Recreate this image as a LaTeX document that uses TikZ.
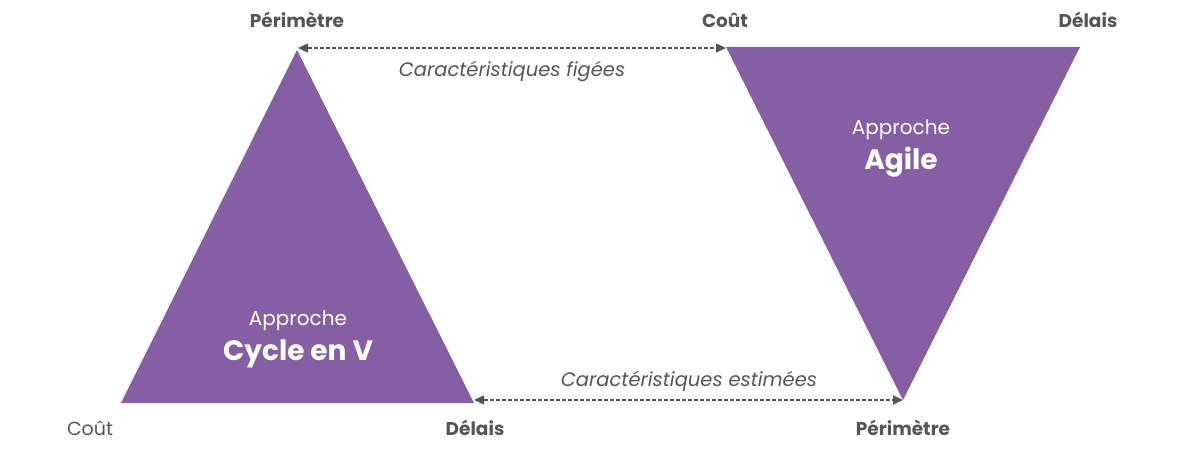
\documentclass[tikz,border=0pt]{standalone}
\usepackage{fontspec}
\setmainfont{Poppins}
\usetikzlibrary{arrows.meta}
\definecolor{purp}{RGB}{133,94,164}
\definecolor{txtgray}{RGB}{85,85,85}
\begin{document}
\begin{tikzpicture}[x=1pt,y=-1pt,
  trifill/.style={fill=purp,draw=none},
  lblb/.style={text=txtgray,font=\fontsize{18.5}{22}\selectfont\bfseries,inner sep=0pt},
  lblr/.style={text=txtgray,font=\fontsize{19}{22}\selectfont,inner sep=0pt},
  captxt/.style={text=txtgray,font=\fontsize{19.5}{23}\selectfont\itshape,inner sep=0pt},
  apprtxt/.style={text=white,font=\fontsize{20}{24}\selectfont,inner sep=0pt},
  apname/.style={text=white,font=\fontsize{28}{32}\selectfont\bfseries,inner sep=0pt},
  dlink/.style={draw=txtgray,line width=1.3pt,dash pattern=on 4pt off 2pt,{Triangle[length=10pt,width=9pt]}-{Triangle[length=10pt,width=9pt]}}]
\useasboundingbox (0,0) rectangle (1179,452);
% left triangle
\coordinate (LA) at (297,50);
\coordinate (LL) at (121,403);
\coordinate (LR) at (474,403);
\fill[trifill] (LA) -- (LL) -- (LR) -- cycle;
% right triangle
\coordinate (RL) at (726,47);
\coordinate (RR) at (1080,47);
\coordinate (RB) at (903,400);
\fill[trifill] (RL) -- (RR) -- (RB) -- cycle;
% arrows
\coordinate (t1) at (298,48);
\coordinate (t2) at (726,48);
\coordinate (b1) at (474,400);
\coordinate (b2) at (903,400);
\draw[dlink] (t1) -- (t2);
\draw[dlink] (b1) -- (b2);
% labels
\node[lblb] (p1) at (297,20) {Périmètre};
\node[lblb] (c1) at (725,20) {Coût};
\node[lblb] (d1) at (1088,20) {Délais};
\node[lblr] (c2) at (90,428) {Coût};
\node[lblb] (d2) at (475,428) {Délais};
\node[lblb] (p2) at (903,428) {Périmètre};
\node[captxt] (cf) at (512,72) {Caractéristiques figées};
\node[captxt] (ce) at (689,381) {Caractéristiques estimées};
\node[apprtxt] (a1) at (298,321) {Approche};
\node[apname] (n1) at (298,354) {Cycle en V};
\node[apprtxt] (a2) at (901,130) {Approche};
\node[apname] (n2) at (901,162) {Agile};
\end{tikzpicture}
\end{document}
